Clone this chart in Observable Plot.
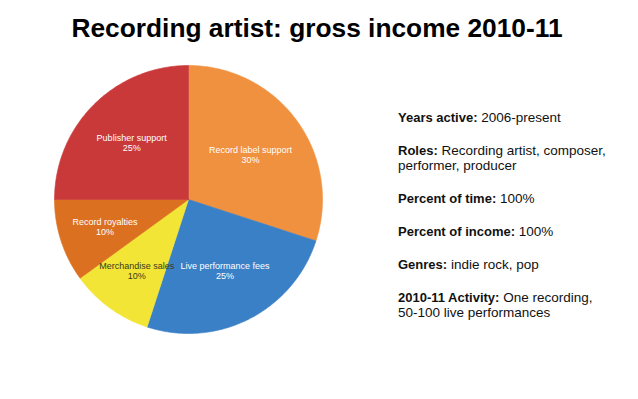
<!DOCTYPE html>
<html><head><meta charset="utf-8">
<script src="https://cdn.jsdelivr.net/npm/d3@7"></script>
<script src="https://cdn.jsdelivr.net/npm/@observablehq/plot@0.6"></script>
<style>
body{margin:0;background:#fff;font-family:Helvetica,"Liberation Sans",Arial,sans-serif;}
#wrap{position:relative;width:638px;height:399px;overflow:hidden;}
#chart{position:absolute;left:0;top:0;}
#title{position:absolute;left:0;top:15px;width:634px;text-align:center;font-weight:bold;font-size:26.3px;line-height:27px;color:#000;}
#info{position:absolute;left:398px;top:110px;font-size:13.5px;line-height:15px;color:#111;}
#info p{margin:0 0 18px 0;}
#info b{font-weight:bold;font-size:13px;}
</style></head>
<body>
<div id="wrap">
  <div id="chart"></div>
  <div id="title"></div>
  <div id="info"></div>
</div>
<script>
const titleText = "Recording artist: gross income 2010-11";
const categories = ["Record label support","Live performance fees","Merchandise sales","Record royalties","Publisher support"];
const values = [30,25,10,10,25];
const colors = ["#F0913F","#3A80C6","#F2E535","#DB7020","#C9393A"];
const darkLabels = ["Merchandise sales"];
const infoLabels = ["Years active:","Roles:","Percent of time:","Percent of income:","Genres:","2010-11 Activity:"];
const infoValues = ["2006-present","Recording artist, composer,\nperformer, producer","100%","100%","indie rock, pop","One recording,\n50-100 live performances"];

document.getElementById("title").textContent = titleText;
const info = document.getElementById("info");
infoLabels.forEach((l,i)=>{
  const p = document.createElement("p");
  const b = document.createElement("b"); b.textContent = l; p.appendChild(b);
  const lines = infoValues[i].split("\n");
  p.appendChild(document.createTextNode(" " + lines[0]));
  for (let k=1;k<lines.length;k++){ p.appendChild(document.createElement("br")); p.appendChild(document.createTextNode(lines[k])); }
  info.appendChild(p);
});

const pieData = categories.map((c,i)=>({key:c, value:values[i]}));
const arcs = d3.pie().value(d=>d.value).sort(null).startAngle(0).endAngle(2*Math.PI)(pieData);
const pts = [];
const labels = [];
arcs.forEach(a=>{
  const key = a.data.key;
  pts.push({key, x:0, y:0});
  const n = Math.max(2, Math.ceil((a.endAngle-a.startAngle)/(Math.PI/180)));
  for (let k=0;k<=n;k++){
    const t = a.startAngle + (a.endAngle-a.startAngle)*k/n;
    pts.push({key, x:Math.sin(t), y:Math.cos(t)});
  }
  pts.push({key, x:0, y:0});
  const half = (a.endAngle-a.startAngle)/2, mid = a.startAngle+half;
  const r = (2/3)*Math.sin(half)/half;
  labels.push({key, x:r*Math.sin(mid), y:r*Math.cos(mid), text: key + "\n" + a.data.value + "%"});
});

const chart = Plot.plot({
  width:638, height:399,
  marginLeft:54, marginRight:316, marginTop:65, marginBottom:66,
  x:{domain:[-1,1], axis:null},
  y:{domain:[-1,1], axis:null},
  color:{domain:categories, range:colors},
  style:{fontFamily:'Helvetica,"Liberation Sans",Arial,sans-serif', background:"transparent"},
  marks:[
    Plot.line(pts, {x:"x", y:"y", z:"key", fill:"key", stroke:"key", strokeWidth:0.6, curve:"linear"}),
    Plot.text(labels.filter(d=>!darkLabels.includes(d.key)), {x:"x", y:"y", text:"text", fill:"white", fontSize:9, lineHeight:1.1}),
    Plot.text(labels.filter(d=>darkLabels.includes(d.key)), {x:"x", y:"y", text:"text", fill:"#3a3a1a", fontSize:9, lineHeight:1.1})
  ]
});
document.getElementById("chart").appendChild(chart);
</script>
</body></html>
